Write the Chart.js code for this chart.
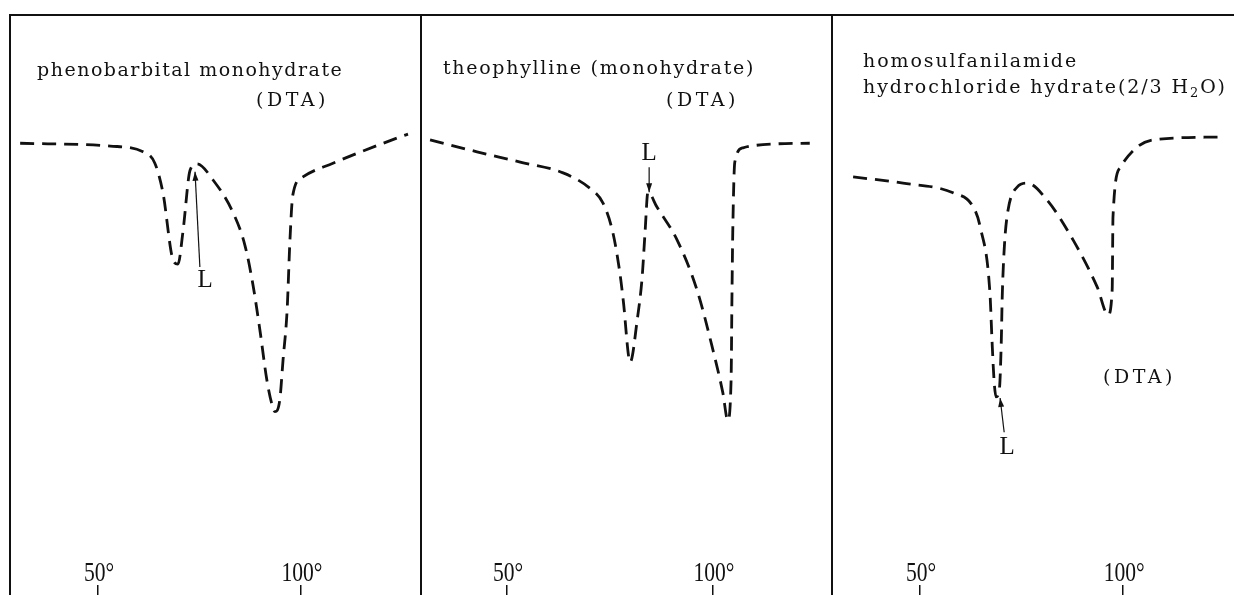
<!DOCTYPE html>
<html>
<head>
<meta charset="utf-8">
<script src="https://cdn.jsdelivr.net/npm/chart.js@4.4.1/dist/chart.umd.min.js"></script>
<style>
  html, body { margin: 0; padding: 0; background: #fff; }
  #wrap { position: relative; width: 1234px; height: 595px; overflow: hidden; }
  canvas { position: absolute; top: 0; }
</style>
</head>
<body>
<div id="wrap">
  <canvas id="c1" width="416" height="595" style="left:8px"></canvas>
  <canvas id="c2" width="416" height="595" style="left:419px"></canvas>
  <canvas id="c3" width="404" height="595" style="left:830px"></canvas>
</div>
<script>
// temperature ticks shared by all three panels
const xTickValues = [50, 100];
const xTickLabels = ['50°', '100°'];

// phenobarbital monohydrate (DTA)
const temp1 = [30.8, 53.0, 61.1, 64.0, 66.0, 68.5, 69.7, 70.9, 72.7, 74.4, 78.3, 83.3, 86.2, 88.2, 89.9, 91.6, 92.9, 93.6, 94.8, 95.6, 96.6, 97.3, 98.0, 100.5, 107.9, 124.4, 126.4];
const dta1  = [77.5, 77.0, 76.0, 74.0, 68.8, 57.0, 56.3, 61.8, 72.8, 73.9, 71.1, 65.3, 59.6, 52.6, 44.7, 36.0, 31.6, 30.4, 32.5, 39.5, 48.2, 60.5, 68.4, 71.6, 74.0, 78.6, 79.1];

// theophylline (monohydrate) (DTA)
const temp2 = [31.3, 42.7, 53.2, 63.6, 70.1, 73.3, 75.7, 77.4, 78.2, 79.9, 81.6, 82.8, 83.5, 84.2, 86.4, 91.3, 96.1, 100.0, 102.4, 103.6, 104.4, 104.6, 104.8, 105.3, 107.3, 115.5, 123.5];
const dta2  = [78.1, 76.0, 74.2, 72.3, 69.6, 67.0, 61.8, 54.7, 50.0, 39.1, 46.5, 54.0, 61.8, 68.9, 66.3, 60.5, 51.8, 41.2, 33.7, 28.9, 36.0, 50.0, 61.8, 74.2, 76.7, 77.4, 77.5];

// homosulfanilamide hydrochloride hydrate (DTA)
const temp3 = [33.5, 45.8, 58.1, 63.1, 64.8, 67.2, 67.7, 68.2, 68.7, 69.5, 70.0, 70.2, 70.7, 71.4, 73.9, 76.4, 81.3, 87.7, 93.6, 96.3, 97.3, 97.5, 99.3, 103.4, 107.4, 123.9];
const dta3  = [71.6, 70.5, 68.8, 66.3, 62.8, 51.2, 43.0, 36.0, 33.0, 34.2, 43.0, 50.0, 58.8, 64.6, 69.8, 70.5, 67.5, 60.5, 52.3, 47.4, 51.8, 64.6, 73.3, 76.8, 78.1, 78.6];

// "L" marks: label point and arrow (from -> tip), in temperature / signal units
const lMark1 = { label: [76.4, 53.5], from: [75.1, 55.8], to: [73.9, 72.5] };
const lMark2 = { label: [84.5, 75.8], from: [84.5, 73.3], to: [84.5, 68.9] };
const lMark3 = { label: [71.4, 24.2], from: [70.7, 26.8], to: [69.7, 32.8] };

const INK = '#111';
const TITLE_FONT = '19px "DejaVu Serif"';
const SUB_FONT = '13px "DejaVu Serif"';

function drawParts(ctx, parts, x, y) {
  parts.forEach(p => {
    if (typeof p === 'string') {
      ctx.font = TITLE_FONT;
      ctx.fillText(p, x, y);
      x += ctx.measureText(p).width;
    } else {
      ctx.font = SUB_FONT;
      ctx.fillText(p.sub, x, y + 4);
      x += ctx.measureText(p.sub).width;
    }
  });
}

const panelText = {
  id: 'panelText',
  afterDatasetsDraw(chart, args, opts) {
    const ctx = chart.ctx;
    const area = chart.chartArea;
    const xs = chart.scales.x, ys = chart.scales.y;
    ctx.save();
    ctx.fillStyle = INK;
    ctx.strokeStyle = INK;

    // panel frame runs on down to the bottom edge
    ctx.lineWidth = 2;
    ctx.beginPath();
    ctx.moveTo(area.left, area.bottom);
    ctx.lineTo(area.left, chart.height);
    ctx.stroke();

    // titles
    ctx.textAlign = 'left';
    ctx.textBaseline = 'alphabetic';
    opts.lines.forEach(l => {
      ctx.letterSpacing = l.spacing;
      drawParts(ctx, l.parts, area.left + l.dx, l.y);
    });

    // temperature labels above the tick marks
    ctx.letterSpacing = '0px';
    ctx.font = '27px "Liberation Serif"';
    ctx.textAlign = 'center';
    ctx.textBaseline = 'middle';
    xTickValues.forEach((v, i) => {
      ctx.save();
      ctx.translate(xs.getPixelForValue(v) + 1, 574);
      ctx.scale(0.8, 1);
      ctx.fillText(xTickLabels[i], 0, 0);
      ctx.restore();
    });

    // L mark with arrow
    const m = opts.mark;
    ctx.font = '25px "Liberation Serif"';
    ctx.fillText('L', xs.getPixelForValue(m.label[0]), ys.getPixelForValue(m.label[1]));
    const x1 = xs.getPixelForValue(m.from[0]), y1 = ys.getPixelForValue(m.from[1]);
    const x2 = xs.getPixelForValue(m.to[0]), y2 = ys.getPixelForValue(m.to[1]);
    ctx.lineWidth = 1.2;
    ctx.beginPath();
    ctx.moveTo(x1, y1);
    ctx.lineTo(x2, y2);
    ctx.stroke();
    const a = Math.atan2(y2 - y1, x2 - x1);
    ctx.beginPath();
    ctx.moveTo(x2, y2);
    ctx.lineTo(x2 - 9 * Math.cos(a) + 3 * Math.sin(a), y2 - 9 * Math.sin(a) - 3 * Math.cos(a));
    ctx.lineTo(x2 - 9 * Math.cos(a) - 3 * Math.sin(a), y2 - 9 * Math.sin(a) + 3 * Math.cos(a));
    ctx.closePath();
    ctx.fill();
    ctx.restore();
  }
};

function makePanel(id, temps, vals, xMin, xMax, padRight, text) {
  return new Chart(document.getElementById(id), {
    type: 'line',
    data: {
      datasets: [{
        data: temps.map((t, i) => ({ x: t, y: vals[i] })),
        borderColor: INK,
        borderWidth: 2.8,
        borderDash: [14, 8],
        pointRadius: 0,
        cubicInterpolationMode: 'monotone',
        fill: false
      }]
    },
    options: {
      responsive: false,
      animation: false,
      layout: { padding: { left: 2, right: padRight, top: 15, bottom: 0 } },
      plugins: {
        legend: { display: false },
        tooltip: { enabled: false },
        panelText: text
      },
      scales: {
        x: {
          type: 'linear',
          position: 'bottom',
          min: xMin,
          max: xMax,
          afterBuildTicks: s => { s.ticks = xTickValues.map(v => ({ value: v })); },
          ticks: { display: false },
          grid: { drawOnChartArea: false, drawTicks: true, tickLength: 10, color: INK, lineWidth: 1.5 },
          border: { display: false }
        },
        xTop: {
          type: 'linear',
          position: 'top',
          min: xMin,
          max: xMax,
          ticks: { display: false },
          grid: { display: false, drawTicks: false },
          border: { display: true, color: INK, width: 2 }
        },
        y: {
          type: 'linear',
          min: 0,
          max: 100,
          ticks: { display: false },
          grid: { display: false, drawTicks: false },
          border: { display: true, color: INK, width: 2 }
        }
      }
    },
    plugins: [panelText]
  });
}

makePanel('c1', temp1, dta1, 28.3, 129.6, 3, {
  lines: [
    { dx: 27, y: 76, spacing: '1.5px', parts: ['phenobarbital monohydrate'] },
    { dx: 246, y: 106, spacing: '3.5px', parts: ['(DTA)'] }
  ],
  mark: lMark1
});

makePanel('c2', temp2, dta2, 29.1, 128.9, 3, {
  lines: [
    { dx: 22, y: 74, spacing: '1.7px', parts: ['theophylline (monohydrate)'] },
    { dx: 245, y: 106, spacing: '3.5px', parts: ['(DTA)'] }
  ],
  mark: lMark2
});

makePanel('c3', temp3, dta3, 28.3, 127.3, 0, {
  lines: [
    { dx: 31, y: 67, spacing: '1.9px', parts: ['homosulfanilamide'] },
    { dx: 31, y: 93, spacing: '1.9px', parts: ['hydrochloride hydrate(2/3 H', { sub: '2' }, 'O)'] },
    { dx: 271, y: 383, spacing: '3.5px', parts: ['(DTA)'] }
  ],
  mark: lMark3
});
</script>
</body>
</html>
